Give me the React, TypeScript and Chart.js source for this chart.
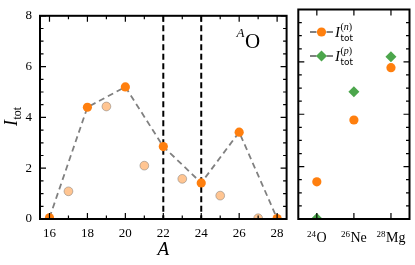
import React, { useEffect, useRef } from "react";
import { Chart, registerables } from "chart.js";
Chart.register(...registerables);

// ---- data ----
const massEven = [16, 18, 20, 22, 24, 26, 28];
const iTotEven = [0.05, 4.4, 5.2, 2.85, 1.42, 3.42, 0.02];
const massOdd = [17, 19, 21, 23, 25, 27];
const iTotOdd = [1.09, 4.43, 2.1, 1.58, 0.92, 0.03];
const xTickValues = [16, 18, 20, 22, 24, 26, 28];
const yTickValues = [0, 2, 4, 6, 8];
const dripLineA = [22, 24];
const nucleusMass = ["24", "26", "28"];
const nucleusSymbol = ["O", "Ne", "Mg"];
const iTotN = [1.42, 3.78, 5.78];
const iTotP = [0.02, 4.86, 6.2];

// ---- styles ----
const SERIF = '"Liberation Serif", "DejaVu Serif", serif';
const SANS = '"DejaVu Sans", sans-serif';
const ORANGE = "#ff7f0e";
const LIGHT = "rgba(255,127,14,0.45)";
const LIGHT_EDGE = "rgba(110,110,110,0.45)";
const GREEN = "#4ca64c";
const GRAY = "#808080";

function minorsOf(majors: number[], step: number, lo: number, hi: number) {
  const out: number[] = [];
  for (let v = lo; v <= hi + 1e-9; v += step) {
    if (!majors.some((m) => Math.abs(m - v) < 1e-9)) out.push(v);
  }
  return out;
}

function makeFramePlugin(xMaj: number[], xMin: number[], yMaj: number[], yMin: number[]) {
  return {
    id: "frame",
    afterDatasetsDraw(chart: any) {
      const { ctx, chartArea: a } = chart;
      const xs = chart.scales.x;
      const ys = chart.scales.y;
      ctx.save();
      ctx.setLineDash([]);
      ctx.strokeStyle = "#000";
      ctx.lineWidth = 1.2;
      ctx.beginPath();
      const vx = (v: number, len: number) => {
        const p = xs.getPixelForValue(v);
        ctx.moveTo(p, a.bottom);
        ctx.lineTo(p, a.bottom - len);
        ctx.moveTo(p, a.top);
        ctx.lineTo(p, a.top + len);
      };
      const hy = (v: number, len: number) => {
        const p = ys.getPixelForValue(v);
        ctx.moveTo(a.left, p);
        ctx.lineTo(a.left + len, p);
        ctx.moveTo(a.right, p);
        ctx.lineTo(a.right - len, p);
      };
      xMaj.forEach((v) => vx(v, 6));
      xMin.forEach((v) => vx(v, 3.5));
      yMaj.forEach((v) => hy(v, 6));
      yMin.forEach((v) => hy(v, 3.5));
      ctx.stroke();
      ctx.lineWidth = 2;
      ctx.strokeRect(a.left, a.top, a.right - a.left, a.bottom - a.top);
      ctx.restore();
    },
  };
}

function LeftPanel() {
  const ref = useRef<HTMLCanvasElement>(null);
  useEffect(() => {
    const canvas = ref.current!;
    const vlines = {
      id: "driplines",
      beforeDatasetsDraw(chart: any) {
        const { ctx, chartArea: a } = chart;
        const xs = chart.scales.x;
        ctx.save();
        ctx.strokeStyle = "#000";
        ctx.lineWidth = 2;
        ctx.setLineDash([6, 3.5]);
        dripLineA.forEach((v) => {
          const p = xs.getPixelForValue(v);
          ctx.beginPath();
          ctx.moveTo(p, a.top);
          ctx.lineTo(p, a.bottom);
          ctx.stroke();
        });
        ctx.restore();
      },
    };
    const texts = {
      id: "texts",
      afterDraw(chart: any) {
        const { ctx } = chart;
        ctx.save();
        ctx.fillStyle = "#000";
        ctx.textBaseline = "alphabetic";
        ctx.textAlign = "left";
        // y-axis label I_tot
        ctx.translate(17, 126);
        ctx.rotate(-Math.PI / 2);
        ctx.font = `italic 18px ${SERIF}`;
        ctx.fillText("I", 0, 0);
        const w = ctx.measureText("I").width;
        ctx.font = `12px ${SERIF}`;
        ctx.fillText("tot", w + 0.5, 3.5);
        ctx.restore();
        // ^A O annotation
        ctx.save();
        ctx.fillStyle = "#000";
        ctx.textBaseline = "alphabetic";
        ctx.font = `italic 13px ${SERIF}`;
        ctx.fillText("A", 236.5, 37);
        const wa = ctx.measureText("A").width;
        ctx.font = `21px ${SERIF}`;
        ctx.fillText("O", 236.5 + wa + 0.5, 48);
        ctx.restore();
      },
    };
    const chart = new Chart(canvas, {
      type: "line",
      data: {
        datasets: [
          {
            type: "line",
            data: massEven.map((a, i) => ({ x: a, y: iTotEven[i] })),
            borderColor: GRAY,
            borderWidth: 1.8,
            borderDash: [6, 4],
            pointRadius: 4.6,
            pointBackgroundColor: ORANGE,
            pointBorderColor: ORANGE,
            pointBorderWidth: 0,
            clip: 0,
          } as any,
          {
            type: "scatter",
            data: massOdd.map((a, i) => ({ x: a, y: iTotOdd[i] })),
            showLine: false,
            pointRadius: 4.4,
            pointBackgroundColor: LIGHT,
            pointBorderColor: LIGHT_EDGE,
            pointBorderWidth: 1,
            clip: 0,
          } as any,
        ],
      },
      options: {
        animation: false,
        responsive: false,
        events: [],
        layout: { padding: { top: 9.5, right: 4.7, left: 0, bottom: 0 } },
        plugins: { legend: { display: false }, tooltip: { enabled: false } },
        scales: {
          x: {
            type: "linear",
            min: 15.5,
            max: 28.5,
            afterBuildTicks: (s: any) => {
              s.ticks = xTickValues.map((v) => ({ value: v }));
            },
            afterFit: (s: any) => {
              s.height = 46;
            },
            grid: { display: false, drawTicks: false },
            border: { display: false },
            ticks: { color: "#000", padding: 7, font: { family: SERIF, size: 13 }, maxRotation: 0 },
            title: {
              display: true,
              text: "A",
              color: "#000",
              font: { family: SERIF, size: 19, style: "italic" },
              padding: { top: 0, bottom: 4 },
            },
          },
          y: {
            type: "linear",
            min: 0,
            max: 8,
            afterBuildTicks: (s: any) => {
              s.ticks = yTickValues.map((v) => ({ value: v }));
            },
            afterFit: (s: any) => {
              s.width = 40;
            },
            grid: { display: false, drawTicks: false },
            border: { display: false },
            ticks: { color: "#000", padding: 8, font: { family: SERIF, size: 13 } },
          },
        },
      },
      plugins: [
        vlines,
        makeFramePlugin(xTickValues, minorsOf(xTickValues, 1, 16, 28), yTickValues, minorsOf(yTickValues, 0.5, 0, 8)),
        texts,
      ],
    } as any);
    return () => chart.destroy();
  }, []);
  return (
    <canvas
      ref={ref}
      width={292}
      height={265}
      style={{ position: "absolute", left: 0, top: 0, display: "block" }}
    />
  );
}

function RightPanel() {
  const ref = useRef<HTMLCanvasElement>(null);
  useEffect(() => {
    const canvas = ref.current!;
    const texts = {
      id: "rtexts",
      afterDraw(chart: any) {
        const { ctx } = chart;
        const xs = chart.scales.x;
        ctx.save();
        ctx.fillStyle = "#000";
        ctx.textBaseline = "alphabetic";
        ctx.textAlign = "left";
        // category labels with superscript mass numbers
        nucleusMass.forEach((m, i) => {
          const cx = xs.getPixelForValue(i);
          ctx.font = `9px ${SERIF}`;
          const w1 = ctx.measureText(m).width;
          ctx.font = `14px ${SERIF}`;
          const w2 = ctx.measureText(nucleusSymbol[i]).width;
          const x0 = cx - (w1 + w2 + 0.5) / 2;
          ctx.font = `9px ${SERIF}`;
          ctx.fillText(m, x0, 236.5);
          ctx.font = `14px ${SERIF}`;
          ctx.fillText(nucleusSymbol[i], x0 + w1 + 0.5, 242);
        });
        // legend
        const rows = [
          { y: 32, sup: "n", marker: "circle" },
          { y: 56, sup: "p", marker: "diamond" },
        ];
        rows.forEach((r) => {
          ctx.save();
          ctx.strokeStyle = GRAY;
          ctx.lineWidth = 1.8;
          ctx.beginPath();
          ctx.moveTo(18, r.y);
          ctx.lineTo(24.5, r.y);
          ctx.moveTo(34.5, r.y);
          ctx.lineTo(41, r.y);
          ctx.stroke();
          ctx.restore();
          ctx.beginPath();
          if (r.marker === "circle") {
            ctx.fillStyle = ORANGE;
            ctx.arc(29.5, r.y, 4.6, 0, Math.PI * 2);
          } else {
            ctx.fillStyle = GREEN;
            ctx.moveTo(29.5, r.y - 5.5);
            ctx.lineTo(35, r.y);
            ctx.lineTo(29.5, r.y + 5.5);
            ctx.lineTo(24, r.y);
            ctx.closePath();
          }
          ctx.fill();
          ctx.fillStyle = "#000";
          const base = r.y + 5;
          ctx.font = `italic 15px ${SERIF}`;
          ctx.fillText("I", 43, base);
          const wi = ctx.measureText("I").width;
          const sx = 43 + wi + 0.5;
          ctx.font = `9px ${SANS}`;
          ctx.fillText("tot", sx, base + 3.5);
          ctx.font = `10px ${SERIF}`;
          ctx.fillText("(", sx, base - 7);
          let px = sx + ctx.measureText("(").width;
          ctx.font = `italic 10px ${SERIF}`;
          ctx.fillText(r.sup, px, base - 7);
          px += ctx.measureText(r.sup).width;
          ctx.font = `10px ${SERIF}`;
          ctx.fillText(")", px, base - 7);
        });
        ctx.restore();
      },
    };
    const yMinR = minorsOf(yTickValues, 0.5, 0, 8);
    const chart = new Chart(canvas, {
      type: "scatter",
      data: {
        datasets: [
          {
            data: iTotN.map((v, i) => ({ x: i, y: v })),
            pointRadius: 4.6,
            pointBackgroundColor: ORANGE,
            pointBorderColor: ORANGE,
            pointBorderWidth: 0,
            clip: 0,
          },
          {
            data: iTotP.map((v, i) => ({ x: i, y: v })),
            pointStyle: "rectRot",
            pointRadius: 5.5,
            pointBackgroundColor: GREEN,
            pointBorderColor: GREEN,
            pointBorderWidth: 0,
            clip: 0,
          },
        ],
      },
      options: {
        animation: false,
        responsive: false,
        events: [],
        layout: { padding: { top: 9.5, right: 4.3, left: 6.3, bottom: 46 } },
        plugins: { legend: { display: false }, tooltip: { enabled: false } },
        scales: {
          x: { type: "linear", min: -0.5, max: 2.5, display: false },
          y: { type: "linear", min: 0, max: 8, display: false },
        },
      },
      plugins: [makeFramePlugin([0, 1, 2], [], yTickValues, yMinR), texts],
    } as any);
    return () => chart.destroy();
  }, []);
  return (
    <canvas
      ref={ref}
      width={123}
      height={265}
      style={{ position: "absolute", left: 292, top: 0, display: "block" }}
    />
  );
}

export default function App() {
  return (
    <div
      style={{
        position: "fixed",
        left: 0,
        top: 0,
        width: 415,
        height: 265,
        background: "#fff",
        overflow: "hidden",
      }}
    >
      <LeftPanel />
      <RightPanel />
    </div>
  );
}
